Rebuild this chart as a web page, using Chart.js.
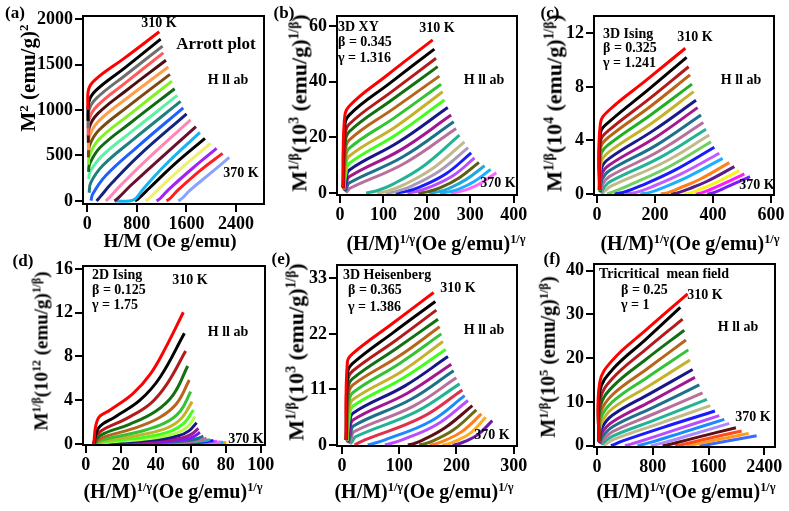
<!DOCTYPE html>
<html>
<head>
<meta charset="utf-8">
<script src="https://cdn.jsdelivr.net/npm/chart.js@4.4.1/dist/chart.umd.min.js"></script>
<style>
  html, body { margin: 0; padding: 0; background: #fff; }
  #page { position: relative; width: 789px; height: 511px; overflow: hidden; background: #fff; }
  canvas { position: absolute; }
  .t { position: absolute; font-family: "Liberation Serif", "Times New Roman", serif; font-weight: bold;
       color: #000; white-space: nowrap; line-height: 1; }
  .c { transform: translate(-50%, -50%); }
  .l { transform: translate(0, -50%); }
  .r { transform: translate(-50%, -50%) rotate(-90deg); }
  .sup { font-size: 0.62em; vertical-align: 0.6em; }
</style>
</head>
<body>
<div id="page">
  <canvas id="pa"></canvas><canvas id="pb"></canvas><canvas id="pc"></canvas>
  <canvas id="pd"></canvas><canvas id="pe"></canvas><canvas id="pf"></canvas>

  <!-- (a) -->
  <div class="t c" style="left:15px;top:12px;font-size:17px">(a)</div>
  <div class="t c" style="left:159px;top:23px;font-size:14px">310 K</div>
  <div class="t c" style="left:216px;top:43px;font-size:17px">Arrott plot</div>
  <div class="t c" style="left:228px;top:80px;font-size:14px">H ll ab</div>
  <div class="t c" style="left:241px;top:173px;font-size:14px">370 K</div>
  <div class="t c" style="left:170px;top:240px;font-size:19px">H/M (Oe g/emu)</div>
  <div class="t r" style="left:28px;top:78px;font-size:21px">M<span class="sup">2</span> (emu/g)<span class="sup">2</span></div>

  <!-- (b) -->
  <div class="t c" style="left:284px;top:12px;font-size:17px">(b)</div>
  <div class="t l" style="left:338px;top:27px;font-size:14px">3D XY</div>
  <div class="t l" style="left:338px;top:42px;font-size:14px">β = 0.345</div>
  <div class="t l" style="left:338px;top:58px;font-size:14px">γ = 1.316</div>
  <div class="t c" style="left:437px;top:28px;font-size:14px">310 K</div>
  <div class="t c" style="left:484px;top:80px;font-size:14px">H ll ab</div>
  <div class="t c" style="left:498px;top:183px;font-size:14px">370 K</div>
  <div class="t c" style="left:436px;top:243px;font-size:20px">(H/M)<span class="sup">1/γ</span>(Oe g/emu)<span class="sup">1/γ</span></div>
  <div class="t r" style="left:299px;top:103px;font-size:22px">M<span class="sup">1/β</span>(10<span class="sup">3</span> (emu/g)<span class="sup">1/β</span>)</div>

  <!-- (c) -->
  <div class="t c" style="left:550px;top:12px;font-size:17px">(c)</div>
  <div class="t l" style="left:603px;top:34px;font-size:14px">3D Ising</div>
  <div class="t l" style="left:603px;top:48px;font-size:14px">β = 0.325</div>
  <div class="t l" style="left:603px;top:63px;font-size:14px">γ = 1.241</div>
  <div class="t c" style="left:695px;top:37px;font-size:14px">310 K</div>
  <div class="t c" style="left:741px;top:80px;font-size:14px">H ll ab</div>
  <div class="t c" style="left:757px;top:185px;font-size:14px">370 K</div>
  <div class="t c" style="left:690px;top:243px;font-size:20px">(H/M)<span class="sup">1/γ</span>(Oe g/emu)<span class="sup">1/γ</span></div>
  <div class="t r" style="left:554px;top:103px;font-size:22px">M<span class="sup">1/β</span>(10<span class="sup">4</span> (emu/g)<span class="sup">1/β</span>)</div>

  <!-- (d) -->
  <div class="t c" style="left:23px;top:260px;font-size:17px">(d)</div>
  <div class="t l" style="left:92px;top:275px;font-size:14px">2D Ising</div>
  <div class="t l" style="left:92px;top:290px;font-size:14px">β = 0.125</div>
  <div class="t l" style="left:92px;top:305px;font-size:14px">γ = 1.75</div>
  <div class="t c" style="left:190px;top:280px;font-size:14px">310 K</div>
  <div class="t c" style="left:228px;top:332px;font-size:14px">H ll ab</div>
  <div class="t c" style="left:246px;top:439px;font-size:14px">370 K</div>
  <div class="t c" style="left:173px;top:491px;font-size:20px">(H/M)<span class="sup">1/γ</span>(Oe g/emu)<span class="sup">1/γ</span></div>
  <div class="t r" style="left:41px;top:351px;font-size:19px">M<span class="sup">1/β</span>(10<span class="sup">12</span> (emu/g)<span class="sup">1/β</span>)</div>

  <!-- (e) -->
  <div class="t c" style="left:281px;top:258px;font-size:17px">(e)</div>
  <div class="t l" style="left:343px;top:275px;font-size:14px">3D Heisenberg</div>
  <div class="t l" style="left:348px;top:290px;font-size:14px">β = 0.365</div>
  <div class="t l" style="left:348px;top:307px;font-size:14px">γ = 1.386</div>
  <div class="t c" style="left:458px;top:288px;font-size:14px">310 K</div>
  <div class="t c" style="left:484px;top:330px;font-size:14px">H ll ab</div>
  <div class="t c" style="left:492px;top:435px;font-size:14px">370 K</div>
  <div class="t c" style="left:424px;top:491px;font-size:20px">(H/M)<span class="sup">1/γ</span>(Oe g/emu)<span class="sup">1/γ</span></div>
  <div class="t r" style="left:296px;top:352px;font-size:22px">M<span class="sup">1/β</span>(10<span class="sup">3</span> (emu/g)<span class="sup">1/β</span>)</div>

  <!-- (f) -->
  <div class="t c" style="left:552px;top:258px;font-size:17px">(f)</div>
  <div class="t l" style="left:599px;top:274px;font-size:14px">Tricritical&nbsp; mean field</div>
  <div class="t l" style="left:621px;top:290px;font-size:14px">β = 0.25</div>
  <div class="t l" style="left:621px;top:305px;font-size:14px">γ = 1</div>
  <div class="t c" style="left:705px;top:295px;font-size:14px">310 K</div>
  <div class="t c" style="left:738px;top:327px;font-size:14px">H ll ab</div>
  <div class="t c" style="left:753px;top:417px;font-size:14px">370 K</div>
  <div class="t c" style="left:686px;top:491px;font-size:20px">(H/M)<span class="sup">1/γ</span>(Oe g/emu)<span class="sup">1/γ</span></div>
  <div class="t r" style="left:548px;top:357px;font-size:20px">M<span class="sup">1/β</span>(10<span class="sup">5</span> (emu/g)<span class="sup">1/β</span>)</div>
</div>

<script>
// temperatures of the isotherms, 310 K (top) to 370 K (bottom)
const tempsK = [310, 313, 316, 319, 322, 325, 328, 331, 334, 337, 340, 343, 346, 349, 352, 355, 358, 361, 364, 367, 370];

// (a) Arrott plot: M^2 vs H/M
const arrottX = [
  [10, 22, 130, 600, 1162], [12, 25, 140, 600, 1184], [14, 28, 150, 620, 1216], [15, 30, 160, 620, 1227],
  [16, 32, 170, 640, 1270], [17, 34, 180, 650, 1307], [18, 36, 190, 670, 1334], [19, 38, 200, 680, 1367],
  [20, 40, 210, 700, 1410], [22, 45, 230, 730, 1453], [30, 55, 250, 750, 1506], [60, 90, 300, 800, 1549],
  [150, 200, 400, 850, 1603], [300, 360, 550, 1000, 1668], [440, 510, 700, 1150, 1754], [440, 740, 900, 1250, 1818],
  [770, 830, 1000, 1400, 1899], [940, 1000, 1150, 1550, 1990], [1120, 1180, 1320, 1700, 2087],
  [1280, 1340, 1480, 1830, 2184], [1470, 1530, 1660, 1980, 2292]
];
const arrottY = [
  [1000, 1230, 1335, 1570, 1860], [880, 1090, 1215, 1460, 1779], [800, 1000, 1130, 1385, 1702], [720, 900, 1045, 1300, 1628],
  [640, 810, 960, 1220, 1547], [560, 710, 875, 1135, 1473], [480, 610, 780, 1045, 1392], [400, 510, 685, 950, 1318],
  [320, 410, 590, 860, 1234], [240, 320, 490, 770, 1160], [90, 200, 390, 680, 1094], [5, 80, 280, 590, 1024],
  [0, 40, 200, 510, 958], [0, 40, 180, 480, 891], [0, 40, 170, 450, 818], [0, 10, 130, 390, 755],
  [0, 30, 140, 400, 689], [0, 30, 130, 380, 633], [0, 30, 130, 360, 578], [0, 30, 130, 340, 523], [0, 30, 120, 300, 479]
];
const arrottColors = ['#ff0000', '#000000', '#6e6e6e', '#ff5a5a', '#4b0f0f', '#ff9d4a', '#7b4a12', '#7ff21f', '#0d6b12',
  '#5ef0a5', '#1f7f7f', '#1f5fff', '#14237e', '#ff86b5', '#6b0f2e', '#14b4f5', '#000000', '#eef06a', '#a321f2', '#ff1e1e', '#86a3ff'];
const arrottXTicks = [0, 800, 1600, 2400];
const arrottYTicks = [0, 500, 1000, 1500, 2000];

// (b) 3D XY
const xyX = [
  [7, 10, 21, 110, 213.5], [7, 10.5, 21, 115, 217.3], [7.5, 11, 21, 120, 221.2], [7.5, 11.5, 21, 120, 225],
  [8, 12, 21, 125, 228.9], [8, 12.5, 21, 125, 232.8], [8.5, 13, 21, 130, 236.6], [9, 13.5, 21, 130, 240.5],
  [9.5, 14, 21, 135, 248.2], [10, 14.5, 21, 140, 255.9], [11, 15, 21, 145, 262], [13, 17, 24, 150, 267.4],
  [60, 85, 120, 195, 275.1], [85, 110, 145, 215, 286.7], [105, 130, 165, 230, 295], [128, 150, 185, 245, 302.1],
  [155, 175, 205, 260, 309.8], [180, 200, 230, 275, 320], [205, 225, 250, 290, 333], [230, 250, 275, 310, 346.8],
  [255, 272, 295, 325, 359.9]
];
const xyY = [
  [2, 26, 31.2, 42.5, 55], [2, 23, 28, 39.5, 51.7], [2, 20, 24.7, 36.5, 48.4], [2, 17, 22, 33.5, 45.4],
  [1.5, 14, 19, 30.5, 42], [1.5, 11.5, 16, 27, 39.1], [1.5, 9, 13.2, 24, 36.4], [1.2, 6.8, 10.6, 21, 33.4],
  [1, 4.8, 8.2, 18.3, 30.7], [0.8, 3, 5.8, 15.5, 28], [0.5, 1.6, 3.6, 13, 25.6], [0.2, 0.7, 1.8, 10.8, 23.2],
  [0, 0.8, 3, 10, 20.8], [0, 0.7, 2.8, 9, 18.4], [0, 0.6, 2.5, 8, 16.3], [0, 0.5, 2.2, 7, 14.4],
  [0, 0.5, 2, 6.2, 12.6], [0, 0.4, 1.8, 5.5, 11], [0, 0.4, 1.6, 4.8, 9.8], [0, 0.4, 1.5, 4.2, 8.5], [0, 0.4, 1.4, 3.6, 7.3]
];
const xyColors = ['#ff0000', '#000000', '#b31a1a', '#117011', '#b8651b', '#33c233', '#c4b22b', '#40ff1a', '#17178a',
  '#a2168f', '#1d6f8a', '#b86f9c', '#22b394', '#c2b98a', '#a89ab8', '#1a1aff', '#b84dff', '#5c5c12', '#20a8d8', '#1ab0ff', '#ff66ff'];
const xyXTicks = [0, 100, 200, 300, 400];
const xyYTicks = [0, 20, 40, 60];

// (c) 3D Ising
const isingX = [
  [8, 12, 42.5, 170, 304.6], [8, 12.5, 42.5, 175, 309], [8.5, 13, 42.5, 180, 316], [8.5, 13.5, 42.5, 185, 320.7],
  [9, 14, 42.5, 185, 327.6], [9, 15, 42.5, 190, 333.3], [9.5, 16, 42.5, 195, 341.4], [10, 17, 42.5, 200, 347],
  [11, 18, 42.5, 205, 358.6], [12, 20, 42.5, 210, 366.7], [14, 23, 45, 220, 375.9], [18, 28, 50, 230, 387.4],
  [35, 60, 110, 250, 393], [60, 95, 150, 270, 404.6], [100, 135, 185, 290, 421.8], [150, 180, 225, 315, 433.3],
  [220, 245, 280, 355, 456.3], [255, 280, 315, 380, 473.6], [300, 322, 350, 410, 490.8], [340, 360, 385, 435, 508],
  [380, 398, 420, 460, 527.6]
];
const isingY = [
  [0.3, 5.3, 6.27, 8.5, 10.88], [0.3, 4.6, 5.4, 7.75, 10.2], [0.3, 4.0, 4.78, 7.1, 9.5], [0.3, 3.5, 4.28, 6.55, 8.89],
  [0.25, 2.95, 3.73, 5.9, 8.2], [0.25, 2.4, 3.16, 5.3, 7.64], [0.2, 1.95, 2.66, 4.75, 7.0], [0.2, 1.5, 2.17, 4.2, 6.45],
  [0.15, 1.1, 1.74, 3.65, 5.9], [0.1, 0.75, 1.3, 3.15, 5.33], [0.05, 0.45, 0.92, 2.75, 4.83], [0, 0.25, 0.6, 2.35, 4.4],
  [0, 0.2, 0.65, 2.05, 3.9], [0, 0.15, 0.6, 1.8, 3.49], [0, 0.12, 0.5, 1.5, 3.04], [0, 0.1, 0.45, 1.3, 2.66],
  [0, 0.1, 0.4, 1.1, 2.34], [0, 0.1, 0.37, 0.95, 2.04], [0, 0.08, 0.3, 0.85, 1.74], [0, 0.08, 0.28, 0.75, 1.5],
  [0, 0.07, 0.25, 0.65, 1.29]
];
const isingColors = ['#ff0000', '#000000', '#b31a1a', '#b86414', '#22b022', '#c4b22b', '#1a1a8a', '#a8168f', '#1d6f8a',
  '#b86f9c', '#22b394', '#c2b98a', '#6fcf5f', '#1a1aff', '#c25cff', '#1ab0ff', '#ff7f1a', '#5c1a8a', '#f5f51a', '#ff1aff', '#7a1aff'];
const isingXTicks = [0, 200, 400, 600];
const isingYTicks = [0, 4, 8, 12];

// (d) 2D Ising
const ising2dX = [
  [4.5, 7, 14, 27, 37, 46, 55.8], [4.5, 7.5, 17, 31, 42.5, 56.4], [4.6, 8, 23, 37, 46.5, 57.1],
  [4.7, 8.5, 25, 40, 50, 58.3], [4.8, 9, 27, 42, 52, 59.2], [5, 10, 30, 45, 54, 60], [5.2, 11, 32, 47, 55, 60.8],
  [5.5, 12, 35, 49, 56.5, 61.5], [6, 13, 37, 51, 58, 62.5], [6.5, 14, 40, 53, 59, 63.4], [7, 15, 42, 55, 60.5, 64.4],
  [7.5, 16, 44, 57, 62, 65.3], [8, 18, 46, 59, 64, 67.2], [9, 20, 48, 61, 66, 69.1], [10, 22, 50, 63, 68, 71],
  [11, 24, 52, 65, 70, 73], [12, 26, 54, 67, 72, 75], [13, 28, 56, 69, 74, 77], [14, 30, 58, 71, 76, 78.5],
  [15, 32, 60, 72, 77, 80], [16, 34, 62, 74, 78, 81]
];
const ising2dY = [
  [0, 2.3, 3.1, 4.6, 6.4, 8.9, 12.04], [0, 1.5, 2.5, 4.0, 6.1, 10.12], [0, 1.1, 2.3, 3.7, 5.5, 8.5],
  [0, 0.8, 1.8, 3.0, 4.5, 7.13], [0, 0.55, 1.4, 2.4, 3.7, 5.85], [0, 0.4, 1.1, 1.9, 3.0, 4.79], [0, 0.3, 0.85, 1.5, 2.4, 3.87],
  [0, 0.22, 0.65, 1.2, 1.95, 3.11], [0, 0.16, 0.5, 0.95, 1.55, 2.5], [0, 0.12, 0.38, 0.75, 1.2, 1.95], [0, 0.09, 0.28, 0.55, 0.9, 1.43],
  [0, 0.07, 0.22, 0.42, 0.7, 1.07], [0, 0.05, 0.17, 0.32, 0.5, 0.73], [0, 0.04, 0.13, 0.25, 0.38, 0.52], [0, 0.03, 0.1, 0.2, 0.3, 0.4],
  [0, 0.025, 0.08, 0.16, 0.24, 0.32], [0, 0.02, 0.065, 0.13, 0.2, 0.26], [0, 0.015, 0.05, 0.1, 0.16, 0.21], [0, 0.012, 0.04, 0.08, 0.13, 0.17],
  [0, 0.01, 0.035, 0.07, 0.11, 0.14], [0, 0.008, 0.03, 0.06, 0.09, 0.12]
];
const ising2dColors = ['#ff0000', '#000000', '#b31a1a', '#117011', '#b8651b', '#33c233', '#c4b22b', '#40ff1a', '#b0ff40',
  '#17178a', '#a2168f', '#7a1aff', '#1d6f8a', '#b86f9c', '#22b394', '#1a1aff', '#c25cff', '#ff66ff', '#1ab0ff', '#ff8a1a', '#f5f51a'];
const ising2dXTicks = [0, 20, 40, 60, 80, 100];
const ising2dYTicks = [0, 4, 8, 12, 16];

// (e) 3D Heisenberg
const heisX = [
  [7, 9.5, 19.2, 90, 160.2], [7, 10, 19.2, 90, 163.1], [7.5, 10.5, 19.2, 95, 164.9], [7.5, 11, 19.2, 95, 167.8],
  [8, 11.5, 19.2, 100, 170.7], [8, 12, 19.2, 100, 173.6], [8.5, 12.5, 19.2, 105, 176.5], [9, 13, 19.2, 105, 181.2],
  [9.5, 13.5, 19.2, 110, 185.2], [10, 14, 19.2, 115, 191], [11, 15, 20, 120, 195.1], [12, 16, 21, 125, 199.8],
  [14, 18, 24, 130, 205.6], [22, 28, 40, 140, 210.3], [45, 55, 75, 155, 214.4], [75, 85, 105, 165, 220.2],
  [115, 125, 140, 180, 227.8], [135, 145, 160, 195, 234.8], [153, 163, 178, 210, 243.5], [175, 185, 198, 225, 251.1],
  [193, 203, 215, 238, 262.7]
];
const heisY = [
  [1, 16.5, 18.15, 24.2, 30.2], [1, 14.5, 16.2, 22.3, 28.4], [1, 13, 14.7, 20.8, 26.7], [1, 11.5, 13.2, 19.1, 24.9],
  [0.9, 10, 11.9, 17.6, 23.4], [0.9, 8.5, 10.4, 16.1, 22], [0.8, 7, 9.0, 14.6, 20.5], [0.7, 5.6, 7.7, 13.1, 18.9],
  [0.6, 4.3, 6.3, 11.7, 17.5], [0.5, 3.0, 4.95, 10.3, 16], [0.4, 2.0, 3.76, 9.0, 14.7], [0.3, 1.2, 2.64, 7.7, 13.3],
  [0.2, 0.7, 1.65, 6.6, 12.1], [0, 0.35, 1.0, 5.5, 10.9], [0, 0.3, 1.0, 4.7, 9.77], [0, 0.3, 1.0, 4.0, 8.8],
  [0, 0.25, 0.9, 3.4, 7.79], [0, 0.25, 0.85, 3.0, 6.93], [0, 0.2, 0.8, 2.7, 6.14], [0, 0.2, 0.75, 2.4, 5.48], [0, 0.2, 0.7, 2.1, 4.82]
];
const heisColors = ['#ff0000', '#000000', '#b31a1a', '#117011', '#b8651b', '#33c233', '#c4b22b', '#40ff1a', '#17178a',
  '#a2168f', '#1d6f8a', '#b86f9c', '#22b394', '#e0304a', '#1a8aff', '#b84dff', '#5c0f14', '#6b6b12', '#ff7f1a', '#ffae1a', '#6a1aa8'];
const heisXTicks = [0, 100, 200, 300];
const heisYTicks = [0, 11, 22, 33];

// (f) tricritical mean field
const tmfX = [
  [25, 40, 225, 700, 1300], [25, 42, 225, 700, 1195], [28, 45, 225, 700, 1228], [28, 48, 225, 700, 1252],
  [30, 52, 225, 720, 1276], [30, 55, 225, 720, 1310], [32, 60, 225, 750, 1334], [34, 65, 225, 760, 1372],
  [36, 70, 225, 780, 1405], [40, 80, 225, 800, 1468], [45, 90, 225, 820, 1515], [55, 110, 225, 850, 1577],
  [90, 140, 240, 880, 1625], [200, 250, 350, 950, 1692], [400, 460, 600, 1100, 1754], [580, 640, 780, 1220, 1826],
  [770, 830, 960, 1350, 1898], [940, 1000, 1120, 1450, 1993], [1120, 1180, 1290, 1580, 2075], [1280, 1340, 1440, 1700, 2175],
  [1470, 1530, 1620, 1850, 2290]
];
const tmfY = [
  [1, 14.5, 19.6, 26.4, 34.7], [1, 12.5, 17.45, 24.3, 31.6], [1, 10.6, 15.4, 22, 28.95], [1, 9, 13.5, 19.7, 26.4],
  [0.9, 7.5, 11.7, 17.6, 24.15], [0.9, 6.2, 10.06, 15.6, 21.9], [0.8, 5.0, 8.53, 13.7, 19.6], [0.7, 3.9, 7.0, 11.9, 17.4],
  [0.6, 2.9, 5.49, 10.2, 15.6], [0.5, 2.1, 4.34, 8.7, 13.9], [0.4, 1.4, 3.2, 7.3, 12.1], [0.3, 0.9, 2.2, 6.0, 10.6],
  [0, 0.5, 1.45, 5.0, 9.14], [0, 0.3, 1.0, 4.2, 7.92], [0, 0.25, 0.9, 3.5, 6.86], [0, 0.2, 0.8, 3.0, 6.02],
  [0, 0.18, 0.7, 2.5, 5.1], [0, 0.15, 0.6, 1.95, 4.11], [0, 0.13, 0.5, 1.6, 3.35], [0, 0.12, 0.42, 1.3, 2.82], [0, 0.1, 0.35, 1.0, 2.29]
];
const tmfColors = ['#ff0000', '#000000', '#b31a1a', '#117011', '#b8651b', '#33c233', '#c4b22b', '#17178a', '#a2168f',
  '#1d6f8a', '#b86f9c', '#22b394', '#c2b98a', '#1a1aff', '#b84dff', '#1a8aff', '#a88cff', '#5c0f14', '#ff4a1a', '#ff9a1a', '#3a6aff'];
const tmfXTicks = [0, 800, 1600, 2400];
const tmfYTicks = [0, 10, 20, 30, 40];

// box round the plot area, like the Igor frame
const framePlugin = {
  id: 'frame',
  afterDraw(chart) {
    const ctx = chart.ctx;
    const a = chart.chartArea;
    ctx.save();
    ctx.strokeStyle = '#000';
    ctx.lineWidth = 2;
    ctx.strokeRect(a.left, a.top, a.right - a.left, a.bottom - a.top);
    ctx.restore();
  }
};

const tickFont = { family: 'Liberation Serif', size: 18, weight: 'bold' };

function makePanel(id, frame, xs, ys, colors, xTicks, yTicks, xRange, yRange) {
  const padL = 60, padT = 14, padR = 32, padB = 36;
  const cv = document.getElementById(id);
  cv.width = frame.R - frame.L + padL + padR;
  cv.height = frame.B - frame.T + padT + padB;
  cv.style.left = (frame.L - padL) + 'px';
  cv.style.top = (frame.T - padT) + 'px';

  const datasets = xs.map((row, i) => ({
    label: tempsK[i] + ' K',
    data: row.map((x, j) => ({ x: x, y: ys[i][j] })),
    borderColor: colors[i],
    borderWidth: 3,
    pointRadius: 0,
    fill: false,
    tension: 0.4
  }));

  const gridOpts = { display: true, drawOnChartArea: false, drawTicks: true, tickLength: 8, lineWidth: 2, color: '#000', tickColor: '#000' };
  const plain = v => String(v);

  return new Chart(cv, {
    type: 'line',
    data: { datasets: datasets },
    options: {
      responsive: false,
      animation: false,
      events: [],
      layout: { padding: { left: 0, top: padT, right: padR, bottom: 0 } },
      plugins: { legend: { display: false }, tooltip: { enabled: false } },
      scales: {
        x: {
          type: 'linear', min: xRange[0], max: xRange[1],
          afterFit: s => { s.height = padB; },
          afterBuildTicks: s => { s.ticks = xTicks.map(v => ({ value: v })); },
          grid: gridOpts, border: { display: false },
          ticks: { font: tickFont, color: '#000', padding: 2, maxRotation: 0, autoSkip: false, callback: plain }
        },
        y: {
          type: 'linear', min: yRange[0], max: yRange[1],
          afterFit: s => { s.width = padL; },
          afterBuildTicks: s => { s.ticks = yTicks.map(v => ({ value: v })); },
          grid: gridOpts, border: { display: false },
          ticks: { font: tickFont, color: '#000', padding: 2, autoSkip: false, callback: plain }
        }
      }
    },
    plugins: [framePlugin]
  });
}

makePanel('pa', { L: 83, T: 16, R: 264, B: 204 }, arrottX, arrottY, arrottColors, arrottXTicks, arrottYTicks, [-69, 2852], [-33, 2033]);
makePanel('pb', { L: 337, T: 16, R: 517, B: 195 }, xyX, xyY, xyColors, xyXTicks, xyYTicks, [-6.9, 407.6], [-0.72, 63.6]);
makePanel('pc', { L: 594, T: 16, R: 774, B: 195 }, isingX, isingY, isingColors, isingXTicks, isingYTicks, [-10.3, 610.3], [-0.075, 13.29]);
makePanel('pd', { L: 83, T: 266, R: 265, B: 445 }, ising2dX, ising2dY, ising2dColors, ising2dXTicks, ising2dYTicks, [-1.54, 102.46], [-0.091, 16.27]);
makePanel('pe', { L: 337, T: 265, R: 517, B: 446 }, heisX, heisY, heisColors, heisXTicks, heisYTicks, [-8.7, 305.8], [-0.2, 35.63]);
makePanel('pf', { L: 594, T: 264, R: 775, B: 447 }, tmfX, tmfY, tmfColors, tmfXTicks, tmfYTicks, [-43, 2553.5], [-0.3, 41.53]);
</script>
</body>
</html>
